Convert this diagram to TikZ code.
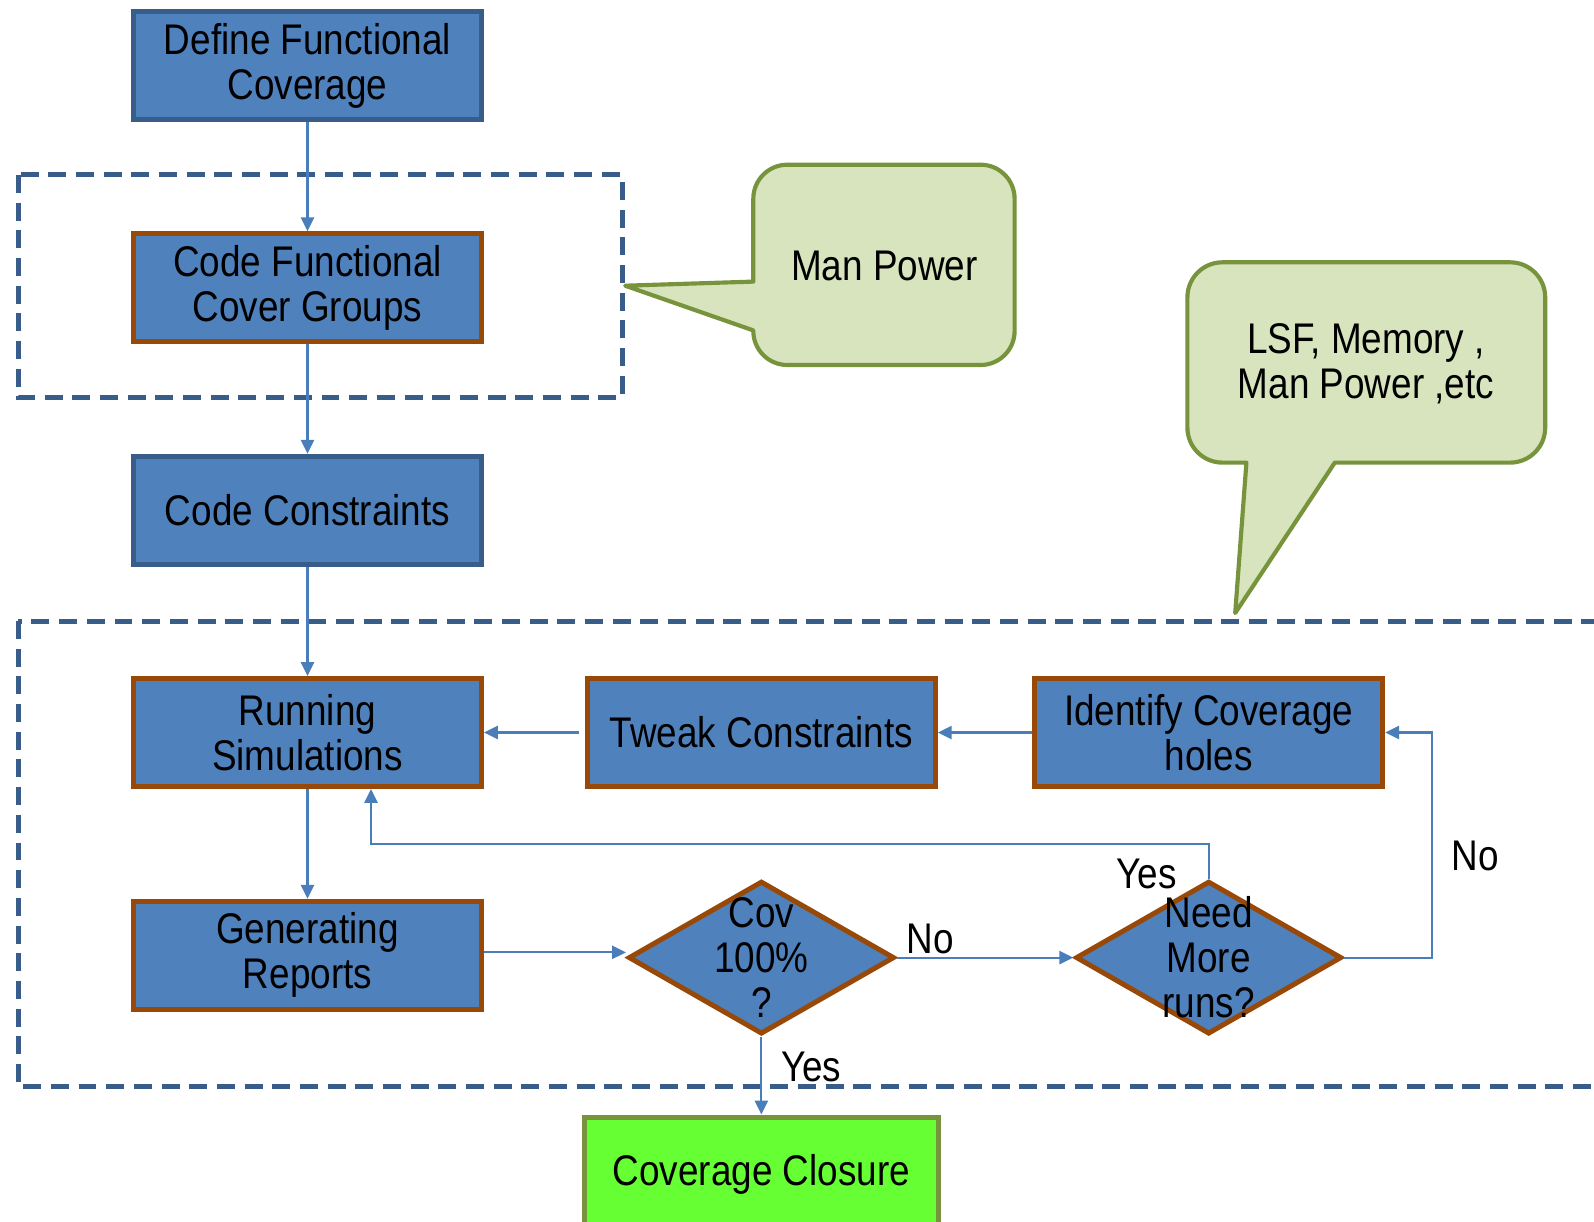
\documentclass[tikz,border=0pt]{standalone}
\usepackage{fontspec}
\setmainfont{Liberation Sans}[FakeStretch=0.86]
\usetikzlibrary{arrows.meta,shapes.geometric}
\definecolor{boxblue}{HTML}{4F81BD}
\definecolor{navyline}{HTML}{385D8A}
\definecolor{rustline}{HTML}{984807}
\definecolor{linkblue}{HTML}{4A7EBB}
\definecolor{notefill}{HTML}{D7E4BD}
\definecolor{noteline}{HTML}{77933C}
\definecolor{donegreen}{HTML}{66FF33}
\newcommand{\chartfont}{\fontsize{31}{32.5}\selectfont}

\begin{document}
\begin{tikzpicture}[x=1in,y=1in,
  stepbase/.style={rectangle, fill=boxblue, line width=3.6pt, minimum width=3.48in, minimum height=1.08in, align=center, font=\chartfont, inner sep=0pt},
  navybox/.style={stepbase, draw=navyline},
  rustbox/.style={stepbase, draw=rustline},
  decision/.style={diamond, fill=boxblue, draw=rustline, line width=3.6pt, minimum width=2.66in, minimum height=1.53in, inner sep=0pt},
  dtext/.style={font=\chartfont, align=center, inner sep=0pt},
  flow/.style={draw=linkblue, line width=1.5pt, -{Triangle[length=10pt,width=9.5pt]}},
  grp/.style={draw=navyline, line width=3.5pt, dash pattern=on 13pt off 7pt},
  note/.style={fill=notefill, draw=noteline, line width=3pt, line join=round},
  tag/.style={font=\chartfont, inner sep=0pt}]
\useasboundingbox (0,-12.22) rectangle (15.94,0);
\draw[grp] (0.183,-1.749) rectangle (6.222,-3.975);
\draw[grp] (0.183,-6.211) rectangle (16.3,-10.867);
\node[navybox] (def) at (3.075,-0.656) {Define Functional\\Coverage};
\node[rustbox] (cfg) at (3.075,-2.877) {Code Functional\\Cover Groups};
\node[navybox] (cc) at (3.075,-5.103) {Code Constraints};
\node[rustbox] (run) at (3.075,-7.325) {Running\\Simulations};
\node[rustbox] (gen) at (3.075,-9.551) {Generating\\Reports};
\node[rustbox] (tweak) at (7.614,-7.325) {Tweak Constraints};
\node[rustbox] (ident) at (12.087,-7.325) {Identify Coverage\\holes};
\node[decision, label={[dtext]center:Cov\\100\%\\?}] (cov) at (7.614,-9.576) {};
\node[decision, label={[dtext]center:Need\\More\\runs?}] (need) at (12.087,-9.576) {};
\node[stepbase, fill=donegreen, draw=noteline, minimum width=3.54in, minimum height=1.14in] (close) at (7.614,-11.74) {Coverage Closure};
\draw[note] (7.533,-2.816) [rounded corners=0.34in] -- (7.533,-1.647) -- (10.146,-1.647) -- (10.146,-3.65) -- (7.533,-3.65) [sharp corners] -- (7.533,-3.304) -- (6.252,-2.857) -- cycle;
\node[tag] (mp) at (8.844,-2.663) {Man Power};
\draw[note] (13.348,-4.626) [rounded corners=0.35in] -- (15.452,-4.626) -- (15.452,-2.623) -- (11.874,-2.623) -- (11.874,-4.626) [sharp corners] -- (12.464,-4.626) -- (12.352,-6.13) -- cycle;
\node[tag, align=center] (res) at (13.66,-3.64) {LSF, Memory ,\\Man Power ,etc};
\draw[flow] (def) -- (cfg);
\draw[flow] (cfg) -- (cc);
\draw[flow] (cc) -- (run);
\draw[flow] (run) -- (gen);
\draw[flow, shorten <=4pt] (tweak) -- (run);
\draw[flow] (ident) -- (tweak);
\draw[flow] ([yshift=2pt]gen.east) -- ([yshift=2pt]gen.east -| cov.west);
\draw[flow] (cov.east) -- (need.west);
\draw[flow] (cov.south) -- (close.north);
\coordinate (yesturn) at (3.71,-8.438);
\draw[flow] (need.north) |- (yesturn) -- (yesturn |- run.south);
\coordinate (noturn) at (14.324,-9.576);
\draw[flow] (need.east) -- (noturn) |- (ident.east);
\node[tag] (nolow) at (9.302,-9.393) {No};
\node[tag] (yeslow) at (8.112,-10.674) {Yes};
\node[tag] (yesup) at (11.467,-8.743) {Yes};
\node[tag] (noright) at (14.75,-8.56) {No};
\end{tikzpicture}
\end{document}
